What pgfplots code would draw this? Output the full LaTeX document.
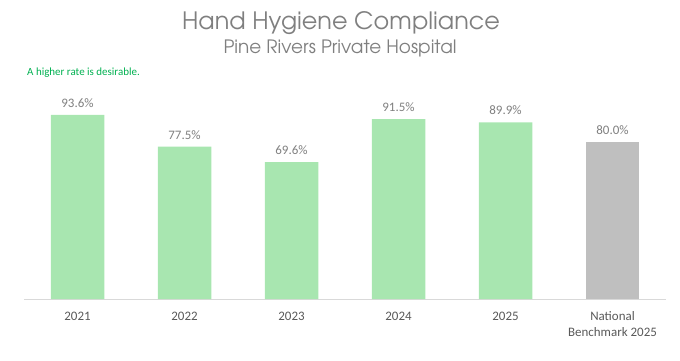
\documentclass[border=0pt]{standalone}
\usepackage{pgfplots}
\pgfplotsset{compat=1.18}
\usepackage{fontspec}
\setmainfont{Carlito}
\newfontfamily\titlefont{TeX Gyre Adventor}
\definecolor{barGreen}{HTML}{A8E6B0}
\definecolor{barGray}{HTML}{BFBFBF}
\definecolor{titleGray}{HTML}{7F7F7F}
\definecolor{labGray}{HTML}{595959}
\definecolor{valGray}{HTML}{7F7F7F}
\definecolor{noteGreen}{HTML}{00B050}
\definecolor{axisGray}{HTML}{D9D9D9}
\begin{document}
\begin{tikzpicture}[x=1bp,y=1bp]
\useasboundingbox (0,0) rectangle (680,360);
\node[anchor=base, text=titleGray, font=\titlefont\fontsize{24}{27}\selectfont, inner sep=0pt] at (341,331) {Hand Hygiene Compliance};
\node[anchor=base, text=titleGray, font=\titlefont\fontsize{18.5}{21}\selectfont, inner sep=0pt] at (340,307) {Pine Rivers Private Hospital};
\node[anchor=base west, text=noteGreen, font=\fontsize{11}{13}\selectfont, inner sep=0pt] at (27,285) {A higher rate is desirable.};
\begin{axis}[
  at={(24bp,61bp)}, anchor=south west,
  scale only axis, width=642bp, height=196.6bp,
  xmin=-0.5, xmax=5.5, ymin=0, ymax=100,
  axis x line*=bottom, hide y axis,
  x axis line style={draw=axisGray, line width=1pt, -},
  xtick={0,1,2,3,4,5},
  xticklabels={2021,2022,2023,2024,2025,{National\\Benchmark 2025}},
  xticklabel style={anchor=north, inner sep=0pt, yshift=-12.5bp, align=center, text=labGray, font=\fontsize{13}{16}\selectfont},
  major tick length=0pt,
  ybar, bar width=0.5, bar shift=0pt,
  clip=false,
  /pgf/number format/assume math mode=true,
  nodes near coords={\pgfmathprintnumber[fixed,fixed zerofill,precision=1,assume math mode=true]{\pgfplotspointmeta}\%},
  nodes near coords style={anchor=base, inner sep=0pt, yshift=7.5bp, text=valGray, font=\fontsize{13}{15}\selectfont},
]
\addplot[fill=barGreen, draw=none] coordinates {(0,93.6) (1,77.5) (2,69.6) (3,91.5) (4,89.9)};
\addplot[fill=barGray, draw=none] coordinates {(5,80.0)};
\end{axis}
\end{tikzpicture}
\end{document}
